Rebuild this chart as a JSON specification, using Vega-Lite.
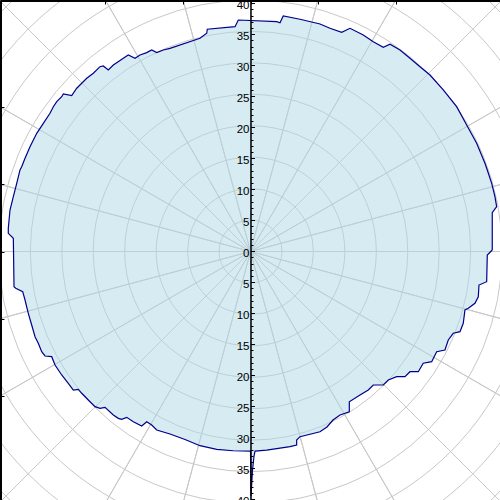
{
  "$schema": "https://vega.github.io/schema/vega-lite/v6.json",
  "width": 501,
  "height": 503,
  "autosize": {"type": "none"},
  "padding": 0,
  "background": "white",
  "config": {"view": {"stroke": null}},
  "datasets": {
    "rings": [{"r":5},{"r":10},{"r":15},{"r":20},{"r":25},{"r":30},{"r":35},{"r":40},{"r":45},{"r":50},{"r":55}],
    "spokes": [{"a":0},{"a":15},{"a":30},{"a":45},{"a":60},{"a":75},{"a":90},{"a":105},{"a":120},{"a":135},{"a":150},{"a":165},{"a":180},{"a":195},{"a":210},{"a":225},{"a":240},{"a":255},{"a":270},{"a":285},{"a":300},{"a":315},{"a":330},{"a":345}],
    "axisholder": [{"v":0}],
    "outline": [
      {"i":1,"x":38.44,"y":0.24},{"i":2,"x":38.44,"y":6.17},{"i":3,"x":39.14,"y":7.12},{"i":4,"x":38.87,"y":8.71},{"i":5,"x":38.35,"y":10.84},{"i":6,"x":37.65,"y":12.96},{"i":7,"x":37.28,"y":14.02},{"i":8,"x":35.96,"y":17.2},{"i":9,"x":34.37,"y":20.11},{"i":10,"x":32.78,"y":23.02},
      {"i":11,"x":30.65,"y":25.68},{"i":12,"x":28.54,"y":28.06},{"i":13,"x":26.95,"y":29.38},{"i":14,"x":25.36,"y":30.72},{"i":15,"x":23.77,"y":32.03},{"i":16,"x":22.18,"y":32.94},{"i":17,"x":21.11,"y":32.46},{"i":18,"x":19.52,"y":33.35},{"i":19,"x":17.93,"y":34.42},{"i":20,"x":15.82,"y":35.48},
      {"i":21,"x":14.5,"y":34.85},{"i":22,"x":12.64,"y":35.48},{"i":23,"x":11.05,"y":36.17},{"i":24,"x":7.87,"y":36.92},{"i":25,"x":5.21,"y":37.44},{"i":26,"x":4.69,"y":36.37},{"i":27,"x":4.17,"y":36.53},{"i":28,"x":-1.94,"y":36.8},{"i":29,"x":-2.46,"y":35.74},{"i":30,"x":-6.87,"y":35.33},
      {"i":31,"x":-6.96,"y":34.69},{"i":32,"x":-8.03,"y":33.89},{"i":33,"x":-12.8,"y":32.3},{"i":34,"x":-13.86,"y":32.03},{"i":35,"x":-14.91,"y":31.61},{"i":36,"x":-15.71,"y":32.03},{"i":37,"x":-16.5,"y":31.61},{"i":38,"x":-17.57,"y":31.24},{"i":39,"x":-18.36,"y":30.72},{"i":40,"x":-19.43,"y":31.24},
      {"i":41,"x":-20.22,"y":30.72},{"i":42,"x":-21.81,"y":29.65},{"i":43,"x":-22.61,"y":28.85},{"i":44,"x":-23.4,"y":29.49},{"i":45,"x":-23.93,"y":29.38},{"i":46,"x":-24.99,"y":28.33},{"i":47,"x":-26.04,"y":27.54},{"i":48,"x":-27.63,"y":25.95},{"i":49,"x":-28.43,"y":24.77},{"i":50,"x":-29.76,"y":25.04},
      {"i":51,"x":-30.02,"y":24.61},{"i":52,"x":-30.81,"y":23.82},{"i":53,"x":-31.35,"y":23.02},{"i":54,"x":-31.88,"y":21.97},{"i":55,"x":-32.94,"y":20.38},{"i":56,"x":-33.99,"y":18.79},{"i":57,"x":-35.06,"y":16.66},{"i":58,"x":-35.85,"y":14.82},{"i":59,"x":-36.38,"y":13.48},{"i":60,"x":-36.65,"y":12.96},
      {"i":61,"x":-37.17,"y":10.84},{"i":62,"x":-37.71,"y":8.71},{"i":63,"x":-38.24,"y":6.6},{"i":64,"x":-38.51,"y":3.69},{"i":65,"x":-38.51,"y":2.89},{"i":66,"x":-37.71,"y":2.1},{"i":67,"x":-37.6,"y":-5.6},{"i":68,"x":-37.33,"y":-5.85},{"i":69,"x":-36.22,"y":-6.39},{"i":70,"x":-35.85,"y":-7.71},
      {"i":71,"x":-35.33,"y":-9.83},{"i":72,"x":-34.79,"y":-11.69},{"i":73,"x":-34.26,"y":-13.55},{"i":74,"x":-33.74,"y":-14.59},{"i":75,"x":-33.2,"y":-15.93},{"i":76,"x":-32.67,"y":-16.61},{"i":77,"x":-31.61,"y":-16.72},{"i":78,"x":-31.08,"y":-18.04},{"i":79,"x":-30.02,"y":-19.63},{"i":80,"x":-28.97,"y":-20.95},
      {"i":81,"x":-28.17,"y":-22.02},{"i":82,"x":-27.38,"y":-21.91},{"i":83,"x":-26.84,"y":-22.54},{"i":84,"x":-25.79,"y":-23.61},{"i":85,"x":-24.72,"y":-24.67},{"i":86,"x":-23.93,"y":-24.93},{"i":87,"x":-23.13,"y":-24.77},{"i":88,"x":-21.81,"y":-25.99},{"i":89,"x":-21.02,"y":-26.52},{"i":90,"x":-20.48,"y":-26.68},
      {"i":91,"x":-19.68,"y":-26.36},{"i":92,"x":-18.63,"y":-27.06},{"i":93,"x":-17.3,"y":-27.74},{"i":94,"x":-16.5,"y":-27.06},{"i":95,"x":-15.71,"y":-27.58},{"i":96,"x":-14.91,"y":-28.38},{"i":97,"x":-12.8,"y":-29.01},{"i":98,"x":-10.41,"y":-29.89},{"i":99,"x":-8.03,"y":-30.87},{"i":100,"x":-5.37,"y":-31.45},
      {"i":101,"x":-2.73,"y":-31.67},{"i":102,"x":0.0,"y":-31.72},{"i":103,"x":0.08,"y":-38.87},{"i":104,"x":0.32,"y":-34.74},{"i":105,"x":0.56,"y":-32.51},{"i":106,"x":0.72,"y":-31.72},{"i":107,"x":2.58,"y":-31.56},{"i":108,"x":6.28,"y":-31.03},{"i":109,"x":7.34,"y":-30.76},{"i":110,"x":7.34,"y":-29.97},
      {"i":111,"x":7.87,"y":-29.44},{"i":112,"x":11.05,"y":-28.65},{"i":113,"x":12.16,"y":-27.9},{"i":114,"x":13.12,"y":-26.79},{"i":115,"x":14.23,"y":-25.99},{"i":116,"x":15.71,"y":-25.47},{"i":117,"x":15.71,"y":-23.88},{"i":118,"x":17.41,"y":-22.81},{"i":119,"x":18.73,"y":-22.02},{"i":120,"x":19.52,"y":-21.22},
      {"i":121,"x":21.11,"y":-21.22},{"i":122,"x":21.91,"y":-20.43},{"i":123,"x":23.24,"y":-19.9},{"i":124,"x":24.56,"y":-19.9},{"i":125,"x":25.36,"y":-19.11},{"i":126,"x":26.68,"y":-19.11},{"i":127,"x":27.47,"y":-17.77},{"i":128,"x":28.81,"y":-17.52},{"i":129,"x":29.6,"y":-15.93},{"i":130,"x":30.92,"y":-15.66},
      {"i":131,"x":31.45,"y":-14.07},{"i":132,"x":32.24,"y":-13.0},{"i":133,"x":33.31,"y":-12.75},{"i":134,"x":33.83,"y":-11.41},{"i":135,"x":34.1,"y":-9.3},{"i":136,"x":34.63,"y":-9.03},{"i":137,"x":35.69,"y":-8.24},{"i":138,"x":36.22,"y":-7.19},{"i":139,"x":36.33,"y":-5.33},{"i":140,"x":37.55,"y":-4.8},
      {"i":141,"x":37.65,"y":-0.56},{"i":142,"x":38.44,"y":0.24}
    ]
  },
  "resolve": {"scale": {"y": "independent"}},
  "layer": [
    {
      "data": {"name": "rings"},
      "mark": {"type": "arc", "filled": false, "stroke": "#c8c8c8", "strokeWidth": 1, "theta": 0, "theta2": 6.2832},
      "encoding": {
        "radius": {"field": "r", "type": "quantitative", "stack": false, "scale": {"domain": [0, 40], "range": [0, 251.6], "zero": true, "nice": false}}
      }
    },
    {
      "data": {"name": "spokes"},
      "mark": {"type": "arc", "filled": false, "stroke": "#c8c8c8", "strokeWidth": 1, "radius": 420, "radius2": 0},
      "encoding": {
        "theta": {"field": "a", "type": "quantitative", "stack": false, "scale": {"domain": [0, 360], "range": [1.5707963, -4.712389], "zero": false, "nice": false}},
        "theta2": {"field": "a"}
      }
    },
    {
      "data": {"name": "outline"},
      "mark": {"type": "line", "fill": "#add8e6", "fillOpacity": 0.5, "stroke": "#00008b", "strokeWidth": 1.2, "interpolate": "linear"},
      "encoding": {
        "x": {"field": "x", "type": "quantitative", "scale": {"domain": [-39.83, 39.83], "nice": false, "zero": false},
          "axis": {"orient": "top", "values": [-23.08, -10.71, 0, 10.71, 23.08], "labels": false, "tickSize": -4, "tickColor": "black", "tickWidth": 1, "domainColor": "black", "domainWidth": 3, "grid": false, "title": null, "zindex": 2}},
        "y": {"field": "y", "type": "quantitative", "scale": {"domain": [-39.98, 39.98], "nice": false, "zero": false},
          "axis": {"orient": "left", "values": [-22.99, -10.67, 0, 10.67, 22.99], "labels": false, "tickSize": -4, "tickColor": "black", "tickWidth": 1, "domainColor": "black", "domainWidth": 3, "grid": false, "title": null, "zindex": 2}},
        "order": {"field": "i", "type": "quantitative"}
      }
    },
    {
      "data": {"name": "axisholder"},
      "mark": {"type": "point", "opacity": 0},
      "encoding": {
        "y": {"field": "v", "type": "quantitative", "scale": {"domain": [-40.6, 40.53], "nice": false, "zero": false},
          "axis": {"orient": "left", "offset": -250.5, "values": [-40,-35,-30,-25,-20,-15,-10,-5,0,5,10,15,20,25,30,35,40], "labelExpr": "format(abs(datum.value), 'd')", "tickSize": -4, "tickColor": "black", "tickWidth": 1, "domainColor": "black", "domainWidth": 1.5, "labelFont": "Liberation Sans", "labelFontSize": 11.5, "labelColor": "black", "labelPadding": 5.5, "labelOffset": 2, "labelOverlap": false, "labelFlush": false, "grid": false, "title": null, "zindex": 3}}
      }
    },
    {
      "data": {"name": "axisholder"},
      "mark": {"type": "point", "opacity": 0},
      "encoding": {
        "y": {"field": "v", "type": "quantitative", "scale": {"domain": [-40.6, 40.53], "nice": false, "zero": false},
          "axis": {"orient": "left", "offset": -250.5, "values": [-40,-39,-38,-37,-36,-35,-34,-33,-32,-31,-30,-29,-28,-27,-26,-25,-24,-23,-22,-21,-20,-19,-18,-17,-16,-15,-14,-13,-12,-11,-10,-9,-8,-7,-6,-5,-4,-3,-2,-1,0,1,2,3,4,5,6,7,8,9,10,11,12,13,14,15,16,17,18,19,20,21,22,23,24,25,26,27,28,29,30,31,32,33,34,35,36,37,38,39,40], "labels": false, "domain": false, "tickSize": -2.5, "tickColor": "black", "tickWidth": 1, "grid": false, "title": null, "zindex": 3}}
      }
    }
  ]
}
